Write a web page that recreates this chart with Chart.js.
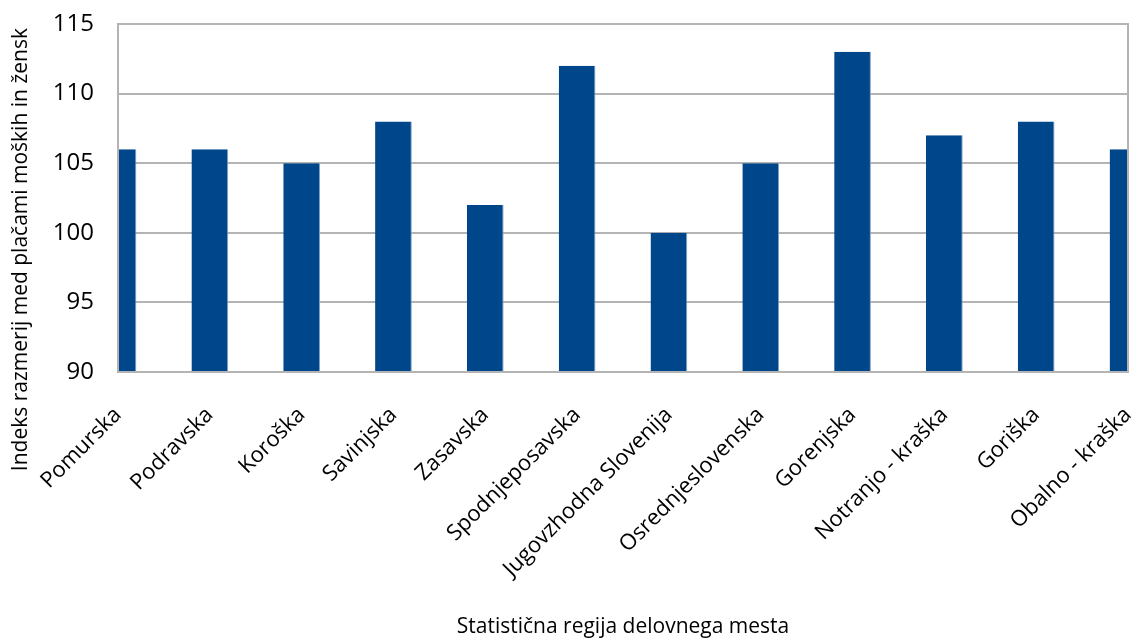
<!DOCTYPE html>
<html>
<head>
<meta charset="utf-8">
<script src="https://cdn.jsdelivr.net/npm/chart.js@4"></script>
<style>
  html, body { margin: 0; padding: 0; background: #fff; }
  #wrap { width: 1136px; height: 640px; }
</style>
</head>
<body>
<div id="wrap"><canvas id="chart" width="1136" height="640"></canvas></div>
<script>
const regions = [
    "Pomurska", "Podravska", "Koroška", "Savinjska", "Zasavska", "Spodnjeposavska",
    "Jugovzhodna Slovenija", "Osrednjeslovenska", "Gorenjska", "Notranjo - kraška",
    "Goriška", "Obalno - kraška",
];
const indexValues = [106, 106, 105, 108, 102, 112, 100, 105, 113, 107, 108, 106];

const yTitle = "Indeks razmerij med plačami moških in žensk";
const xTitle = "Statistična regija delovnega mesta";

const fontFamily = "'Open Sans', 'DejaVu Sans', sans-serif";
const gridColor = "#b4b4b4";

// frame around the plot area (top/right sides are not covered by axis borders)
const plotFrame = {
    id: "plotFrame",
    afterDatasetsDraw(chart) {
        const { ctx, chartArea: a } = chart;
        ctx.save();
        ctx.strokeStyle = gridColor;
        ctx.lineWidth = 2;
        ctx.strokeRect(a.left, a.top, a.right - a.left, a.bottom - a.top);
        ctx.restore();
    },
};

// y title is longer than the axis, so it is centred on the whole canvas instead
const yAxisTitle = {
    id: "yAxisTitle",
    afterDraw(chart) {
        const { ctx } = chart;
        ctx.save();
        ctx.translate(21, chart.height * 0.39);
        ctx.rotate(-Math.PI / 2);
        ctx.font = `21px ${fontFamily}`;
        ctx.fillStyle = "#000";
        ctx.textAlign = "center";
        ctx.textBaseline = "middle";
        ctx.fillText(yTitle, 0, 0);
        ctx.restore();
    },
};

new Chart("chart", {
    type: "bar",
    data: {
        labels: regions,
        datasets: [
            {
                data: indexValues,
                backgroundColor: "#00468a",
                borderColor: "#7fa2c4",
                borderWidth: { right: 1, left: 0, top: 0, bottom: 0 },
                barPercentage: 0.4,
                categoryPercentage: 1,
            },
        ],
    },
    options: {
        responsive: false,
        animation: false,
        layout: { padding: { top: 24, right: 8 } },
        plugins: {
            legend: { display: false },
            tooltip: { enabled: false },
        },
        scales: {
            x: {
                offset: false,
                grid: { display: false, drawTicks: false },
                border: { color: gridColor, width: 2 },
                ticks: {
                    autoSkip: false,
                    minRotation: 45,
                    maxRotation: 45,
                    padding: 30,
                    color: "#000",
                    font: { family: fontFamily, size: 22 },
                },
                title: {
                    display: true,
                    text: xTitle,
                    color: "#000",
                    font: { family: fontFamily, size: 21 },
                    padding: { top: 0, bottom: 0 },
                },
                afterFit(scale) {
                    scale.height = 268;
                    scale.paddingLeft = 0;
                    scale.paddingRight = 0;
                },
            },
            y: {
                min: 90,
                max: 115,
                grid: { color: gridColor, lineWidth: 2, drawTicks: false },
                border: { color: gridColor, width: 2 },
                ticks: {
                    stepSize: 5,
                    padding: 24,
                    color: "#000",
                    font: { family: fontFamily, size: 24 },
                },
                afterFit(scale) {
                    scale.width = 118;
                    scale.paddingTop = 0;
                    scale.paddingBottom = 0;
                },
            },
        },
    },
    plugins: [plotFrame, yAxisTitle],
});
</script>
</body>
</html>
